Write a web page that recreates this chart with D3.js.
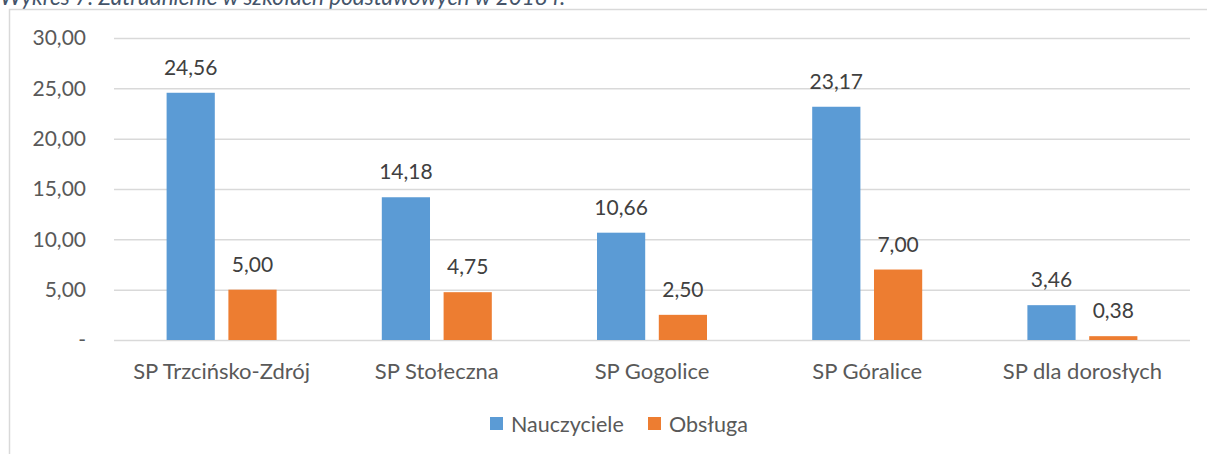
<!DOCTYPE html>
<html>
<head>
<meta charset="utf-8">
<script src="https://cdn.jsdelivr.net/npm/d3@7"></script>
<style>
  body { margin: 0; background: #fff; }
  svg { display: block; }
</style>
</head>
<body>
<svg></svg>
<script>
// Data
const schools = ["SP Trzcińsko-Zdrój", "SP Stołeczna", "SP Gogolice", "SP Góralice", "SP dla dorosłych"]
const nauczyciele = [24.56, 14.18, 10.66, 23.17, 3.46]
const obsluga = [5.00, 4.75, 2.50, 7.00, 0.38]
const seriesNames = ["Nauczyciele", "Obsługa"]
const yTicks = [0, 5, 10, 15, 20, 25, 30]

const width = 1207
const height = 454
const font = "Lato, Calibri, sans-serif"
const textColor = "#595959"
const colors = ["#5B9BD5", "#ED7D31"]

const svg = d3.select("svg")
    .attr("width", width)
    .attr("height", height)

// Title (clipped at the top, as in the source)
svg.append("text")
    .attr("x", 0)
    .attr("y", 5)
    .attr("font-family", font)
    .attr("font-style", "italic")
    .attr("font-size", "22.5px")
    .attr("fill", "#44546A")
    .text("Wykres 7. Zatrudnienie w szkołach podstawowych w 2018 r.")

// Chart frame
svg.append("rect")
    .attr("x", 9.5)
    .attr("y", 9.5)
    .attr("width", 1300)
    .attr("height", 600)
    .attr("fill", "none")
    .attr("stroke", "#d9d9d9")
    .attr("stroke-width", 1.5)

const margin = { top: 38, left: 114, right: 17, bottom: 114 }
const innerWidth = width - margin.left - margin.right
const innerHeight = height - margin.top - margin.bottom

const g = svg.append("g")
    .attr("transform", `translate(${margin.left}, ${margin.top})`)

const yScale = d3.scaleLinear()
    .domain([0, 30])
    .range([innerHeight, 0])

const xScale = d3.scaleBand()
    .domain(schools)
    .range([0, innerWidth])

const inner = d3.scaleBand()
    .domain(seriesNames)
    .range([xScale.bandwidth() / 2 - 55, xScale.bandwidth() / 2 + 55])
    .paddingInner(0.22)

const fmt = v => v === 0 ? "-" : d3.format(".2f")(v).replace(".", ",")

// Y axis with gridlines
const yAxis = d3.axisLeft(yScale)
    .tickValues(yTicks)
    .tickSize(-innerWidth)
    .tickPadding(28)
    .tickFormat(fmt)

const yAxisG = g.append("g").call(yAxis)
yAxisG.select(".domain").remove()
yAxisG.selectAll(".tick line")
    .attr("stroke", "#d9d9d9")
    .attr("stroke-width", 1.5)
yAxisG.selectAll(".tick text")
    .attr("font-family", font)
    .attr("font-size", "21px")
    .attr("fill", textColor)

// X axis labels
const xAxis = d3.axisBottom(xScale)
    .tickSize(0)
    .tickPadding(23)

const xAxisG = g.append("g").call(xAxis)
    .attr("transform", `translate(0, ${innerHeight})`)
xAxisG.select(".domain").remove()
xAxisG.selectAll(".tick text")
    .attr("font-family", font)
    .attr("font-size", "22px")
    .attr("fill", textColor)

// Bars
const rows = schools.map((s, i) => ({ school: s, values: [nauczyciele[i], obsluga[i]] }))

const groups = g.selectAll(".group").data(rows)
    .enter().append("g")
    .attr("transform", d => `translate(${xScale(d.school)}, 0)`)

const cells = groups.selectAll(".cell")
    .data(d => d.values.map((v, j) => ({ name: seriesNames[j], value: v, j })))
    .enter()

cells.append("rect")
    .attr("x", d => inner(d.name))
    .attr("width", inner.bandwidth())
    .attr("y", d => yScale(d.value))
    .attr("height", d => innerHeight - yScale(d.value))
    .attr("fill", d => colors[d.j])

cells.append("text")
    .attr("x", d => inner(d.name) + inner.bandwidth() / 2)
    .attr("y", d => yScale(d.value) - 18)
    .attr("text-anchor", "middle")
    .attr("font-family", font)
    .attr("font-size", "21px")
    .attr("fill", "#404040")
    .text(d => fmt(d.value))

// Legend
const legend = svg.append("g")
    .attr("transform", "translate(490, 417)")

const legendItems = legend.selectAll("g").data(seriesNames)
    .enter().append("g")
    .attr("transform", (d, i) => `translate(${i * 158}, 0)`)

legendItems.append("rect")
    .attr("width", 13)
    .attr("height", 13)
    .attr("fill", (d, i) => colors[i])

legendItems.append("text")
    .attr("x", 21)
    .attr("y", 7)
    .attr("dy", "0.35em")
    .attr("font-family", font)
    .attr("font-size", "21.5px")
    .attr("fill", textColor)
    .text(d => d)
</script>
</body>
</html>
